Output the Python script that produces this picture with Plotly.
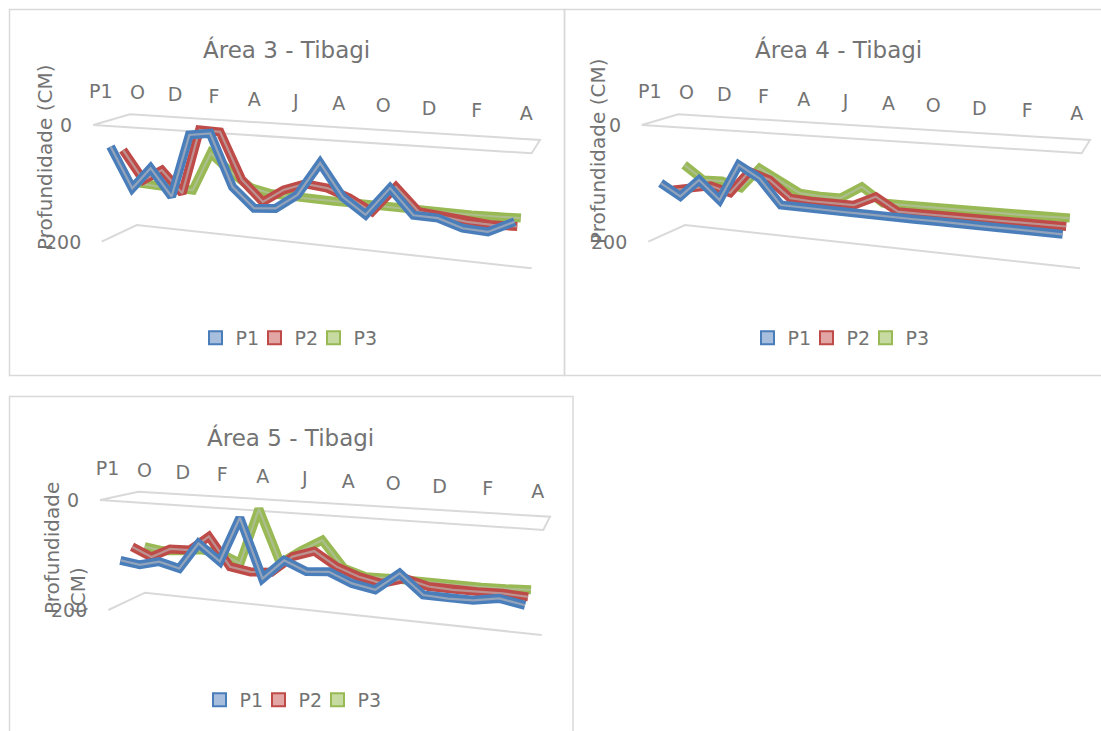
import numpy as np
import plotly.graph_objects as go

W, H = 1101, 731
FONT = "DejaVu Sans"
TEXT_GREY = "#737373"
GRID = "#D9D9D9"

# Month categories (Oct .. Apr) and the sparse axis labels drawn above them
months = ["O", "N", "D", "J", "F", "M", "A", "M", "J", "J",
          "A", "S", "O", "N", "D", "J", "F", "M", "A"]
tick_labels = ["P1", "O", "D", "F", "A", "J", "A", "O", "D", "F", "A"]

# Water-table depth (cm) per well, three areas
a3_p1 = [39, 108, 71, 116, 10, 5, 91, 123, 120, 95, 41, 92, 117, 72, 111, 112, 124, 126, 107]
a3_p2 = [52, 102, 82, 119, 8, 9, 87, 121, 98, 85, 89, 102, 121, 78, 114, 118, 123, 124, 123]
a3_p3 = [118, 121, 121, 122, 55, 85, 109, 116, 118, 119, 119, 119, 120, 121, 122, 121, 121, 120, 119]

a4_p1 = [102, 122, 91, 122, 60, 80, 121, 122, 122, 123, 123, 124, 124, 124, 125, 125, 125, 126, 126]
a4_p2 = [122, 117, 109, 118, 79, 90, 118, 120, 120, 120, 103, 124, 124, 124, 124, 124, 124, 124, 123]
a4_p3 = [86, 110, 109, 118, 81, 100, 118, 120, 120, 98, 122, 122, 122, 121, 121, 121, 121, 120, 119]

a5_p1 = [112, 117, 108, 117, 69, 98, 18, 121, 86, 102, 99, 115, 122, 91, 123, 125, 124, 117, 124]
a5_p2 = [95, 111, 93, 92, 64, 116, 122, 119, 88, 75, 99, 113, 121, 109, 119, 121, 120, 119, 121]
a5_p3 = [103, 108, 105, 100, 103, 119, 15, 112, 86, 64, 111, 123, 122, 123, 123, 123, 123, 122, 120]

series_names = ["P1", "P2", "P3"]
VMAX = 200.0

# Series styling: edge colour, ribbon centre colour, legend fill, depth slot
STYLE = {
    "P1": dict(edge="#4A7EBB", core="#93A3B9", fill="#A7BEDD", depth=1 / 6),
    "P2": dict(edge="#BE4B48", core="#BC9291", fill="#E2A6A4", depth=1 / 2),
    "P3": dict(edge="#98B954", core="#ABBE8C", fill="#C6DAA2", depth=5 / 6),
}

N = len(months)
PERSPECTIVE = 1.19  # foreshortening ratio along the category direction


def foreshorten(u):
    u = np.asarray(u, dtype=float)
    return u / (u + (1 - u) * PERSPECTIVE)


def make_box(fl0, fr0, bl0, br0, fl1, fr1, bl1, br1):
    # corners of the plot cube: (category end, depth end, value end)
    return {(0, 0, 0): fl0, (1, 0, 0): fr0, (0, 1, 0): bl0, (1, 1, 0): br0,
            (0, 0, 1): fl1, (1, 0, 1): fr1, (0, 1, 1): bl1, (1, 1, 1): br1}


def project(box, u, w, t):
    g = foreshorten(u)
    w = np.asarray(w, dtype=float)
    t = np.asarray(t, dtype=float)
    x = np.zeros(np.broadcast(g, w, t).shape)
    y = np.zeros_like(x)
    for iu, wu in ((0, 1 - g), (1, g)):
        for iw, ww in ((0, 1 - w), (1, w)):
            for it, wt in ((0, 1 - t), (1, t)):
                cx, cy = box[(iu, iw, it)]
                x = x + wu * ww * wt * cx
                y = y + wu * ww * wt * cy
    return x, y


def cat_u(c):
    return (np.asarray(c, dtype=float) + 0.5) / N


panels = [
    dict(title="Área 3 - Tibagi", title_xy=(286.5, 49),
         data=(a3_p1, a3_p2, a3_p3),
         box=make_box((93.3, 125), (531.7, 153.3), (130, 114.3), (540, 140),
                      (101.7, 241.7), (521.7, 288.6), (136.7, 225), (531.7, 268.3)),
         ytitle=dict(text="Profundidade (CM)", x=45, y=157),
         frame=(9.5, 9.5, 564.5, 375.5),
         legend=dict(name="legend", x=290, y=338)),
    dict(title="Área 4 - Tibagi", title_xy=(838, 49),
         data=(a4_p1, a4_p2, a4_p3),
         box=make_box((641.7, 125), (1081.7, 153.3), (678.3, 114.3), (1090, 140),
                      (648.3, 241.7), (1070, 288.6), (685, 225), (1080, 268.3)),
         ytitle=dict(text="Profundidade (CM)", x=598, y=151),
         frame=(564.5, 9.5, 1112, 375.5),
         legend=dict(name="legend2", x=842, y=338)),
    dict(title="Área 5 - Tibagi", title_xy=(290.5, 437),
         data=(a5_p1, a5_p2, a5_p3),
         box=make_box((100, 500), (543.3, 530), (138.3, 491.7), (550, 516.7),
                      (108.3, 610), (533.3, 658.8), (145, 592.7), (541.7, 635)),
         ytitle=dict(text="Profundidade<br>(CM)", x=65, y=548),
         frame=(9.5, 396.5, 573, 745),
         legend=dict(name="legend3", x=294, y=700)),
]

fig = go.Figure()
shapes, annotations, legends = [], [], {}
cats = np.arange(N)
label_pos = np.linspace(0, 18.2, len(tick_labels))

for p in panels:
    box = p["box"]
    x0, y0, x1, y1 = p["frame"]
    shapes.append(dict(type="rect", xref="x", yref="y", x0=x0, y0=y0, x1=x1, y1=y1,
                       line=dict(color=GRID, width=1.5), fillcolor="rgba(0,0,0,0)", layer="below"))

    # value gridlines: outline of the 0 plane and the 200 level on the walls
    c = {k: project(box, k[0], k[1], k[2]) for k in box}

    def pt(k):
        return f"{float(c[k][0]):.2f},{float(c[k][1]):.2f}"

    shapes.append(dict(type="path", xref="x", yref="y", layer="below",
                       path=f"M{pt((0,0,0))} L{pt((1,0,0))} L{pt((1,1,0))} L{pt((0,1,0))} Z",
                       line=dict(color=GRID, width=2)))
    shapes.append(dict(type="path", xref="x", yref="y", layer="below",
                       path=f"M{pt((0,0,1))} L{pt((0,1,1))} L{pt((1,1,1))}",
                       line=dict(color=GRID, width=2)))

    # value axis labels
    for val in (0, 200):
        vx, vy = project(box, 0.0, 0.0, val / VMAX)
        annotations.append(dict(x=float(vx) - 19, y=float(vy), xref="x", yref="y", text=str(val),
                                showarrow=False, xanchor="right", yanchor="middle",
                                font=dict(family=FONT, size=19, color=TEXT_GREY)))

    # category labels
    lx, ly = project(box, cat_u(label_pos), 0.0, -0.28)
    fig.add_trace(go.Scatter(x=lx, y=ly, mode="text", text=tick_labels,
                             textfont=dict(family=FONT, size=19, color=TEXT_GREY),
                             showlegend=False, hoverinfo="skip"))

    # series ribbons, back to front
    for name, vals in reversed(list(zip(series_names, p["data"]))):
        st = STYLE[name]
        sx, sy = project(box, cat_u(cats), st["depth"], np.asarray(vals) / VMAX)
        fig.add_trace(go.Scatter(x=sx, y=sy, mode="lines", showlegend=False, hoverinfo="skip",
                                 line=dict(color=st["edge"], width=9)))
        fig.add_trace(go.Scatter(x=sx, y=sy, mode="lines", showlegend=False, hoverinfo="skip",
                                 line=dict(color=st["core"], width=2.2)))

    # legend entries (the last entry keeps room for its full label)
    lg = p["legend"]
    for i, name in enumerate(series_names):
        st = STYLE[name]
        fig.add_trace(go.Scatter(x=[None], y=[None], mode="markers", name=name,
                                 legend=lg["name"],
                                 legendwidth=26 if i == len(series_names) - 1 else 14,
                                 marker=dict(symbol="square", size=13, color=st["fill"],
                                             line=dict(color=st["edge"], width=2))))
    legends[lg["name"]] = dict(orientation="h", x=lg["x"] / W, y=1 - lg["y"] / H,
                               xanchor="center", yanchor="middle", itemwidth=30,
                               entrywidthmode="pixels",
                               bgcolor="rgba(0,0,0,0)",
                               font=dict(family=FONT, size=19, color=TEXT_GREY))

    # chart title and value-axis title
    tx, ty = p["title_xy"]
    annotations.append(dict(x=tx, y=ty, xref="x", yref="y", text=p["title"], showarrow=False,
                            xanchor="center", yanchor="middle",
                            font=dict(family=FONT, size=23, color=TEXT_GREY)))
    yt = p["ytitle"]
    annotations.append(dict(x=yt["x"], y=yt["y"], xref="x", yref="y", text=yt["text"],
                            showarrow=False, textangle=-90, align="left",
                            xanchor="center", yanchor="middle",
                            font=dict(family=FONT, size=20, color=TEXT_GREY)))

fig.update_layout(
    width=W, height=H, margin=dict(l=0, r=0, t=0, b=0),
    paper_bgcolor="white", plot_bgcolor="white",
    xaxis=dict(range=[0, W], visible=False, fixedrange=True),
    yaxis=dict(range=[H, 0], visible=False, fixedrange=True),
    shapes=shapes, annotations=annotations,
    **legends,
)

fig.write_html("out.html")
